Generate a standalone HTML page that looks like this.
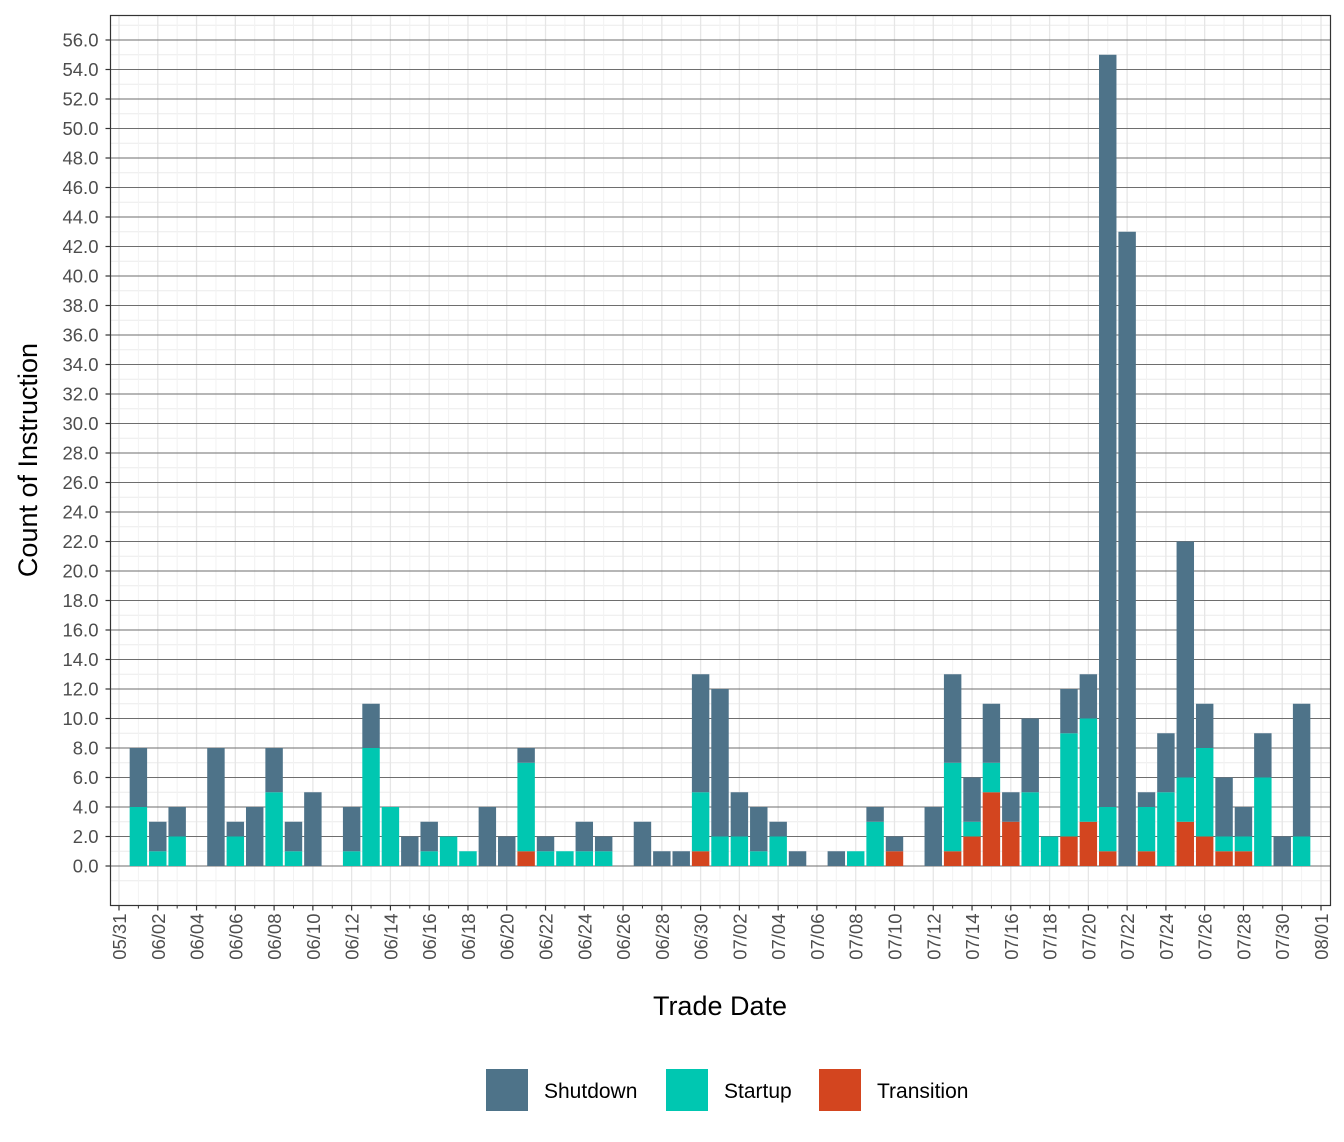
<!DOCTYPE html>
<html><head><meta charset="utf-8"><style>
html,body{margin:0;padding:0;background:#fff;}
svg{display:block;font-family:"Liberation Sans",sans-serif;}
</style></head><body>
<svg id="chart" width="1344" height="1142" xmlns="http://www.w3.org/2000/svg">
<g id="grid"></g>
<g id="bars"></g>
<rect x="110.5" y="15.5" width="1220" height="890" fill="none" stroke="#333" stroke-width="1.2"/>
<g id="yaxis"></g>
<g id="xaxis"></g>
<text x="720" y="1015" font-size="27" text-anchor="middle" fill="#000">Trade Date</text>
<text transform="translate(37,460) rotate(-90)" font-size="27" text-anchor="middle" fill="#000">Count of Instruction</text>
<g>
 <g><rect x="486" y="1069" width="42" height="42" fill="#4e7389"/><text x="544" y="1098" font-size="21">Shutdown</text></g>
 <g><rect x="666" y="1069" width="42" height="42" fill="#00c7b1"/><text x="724" y="1098" font-size="21">Startup</text></g>
 <g><rect x="819" y="1069" width="42" height="42" fill="#d3451f"/><text x="877" y="1098" font-size="21">Transition</text></g>
</g>
</svg>
<script>
// day offsets from 05/31
const days = [1,2,3,5,6,7,8,9,10,12,13,14,15,16,17,18,19,20,21,22,23,24,25,27,28,29,30,31,32,33,34,35,37,38,39,40,42,43,44,45,46,47,48,49,50,51,52,53,54,55,56,57,58,59,60,61];
const transition = [0,0,0,0,0,0,0,0,0,0,0,0,0,0,0,0,0,0,1,0,0,0,0,0,0,0,1,0,0,0,0,0,0,0,0,1,0,1,2,5,3,0,0,2,3,1,0,1,0,3,2,1,1,0,0,0];
const startup    = [4,1,2,0,2,0,5,1,0,1,8,4,0,1,2,1,0,0,6,1,1,1,1,0,0,0,4,2,2,1,2,0,0,1,3,0,0,6,1,2,0,5,2,7,7,3,0,3,5,3,6,1,1,6,0,2];
const shutdown   = [4,2,2,8,1,4,3,2,5,3,3,0,2,2,0,0,4,2,1,1,0,2,1,3,1,1,8,10,3,3,1,1,1,0,1,1,4,6,3,4,2,5,0,3,3,51,43,1,4,16,3,4,2,3,2,9];
const yTicks = [0,2,4,6,8,10,12,14,16,18,20,22,24,26,28,30,32,34,36,38,40,42,44,46,48,50,52,54,56];
const xTickLabels = ["05/31","06/02","06/04","06/06","06/08","06/10","06/12","06/14","06/16","06/18","06/20","06/22","06/24","06/26","06/28","06/30","07/02","07/04","07/06","07/08","07/10","07/12","07/14","07/16","07/18","07/20","07/22","07/24","07/26","07/28","07/30","08/01"];

const NS="http://www.w3.org/2000/svg";
const X0=119, DW=(1321-119)/62, Y0=866, UH=(866-40)/56;
const PL=110.5, PR=1330.5, PT=15.5, PB=905.5;
const x=d=>X0+d*DW, y=v=>Y0-v*UH;
function mk(tag,attrs,parent){const e=document.createElementNS(NS,tag);for(const k in attrs)e.setAttribute(k,attrs[k]);parent.appendChild(e);return e;}
const grid=document.getElementById('grid'),bars=document.getElementById('bars'),ya=document.getElementById('yaxis'),xa=document.getElementById('xaxis');
// minor horizontal
for(let v=-1;v<=57;v+=2){const yy=y(v);if(yy<PT||yy>PB)continue;
 const l=mk('line',{x1:PL,x2:PR,y1:yy,y2:yy,stroke:'#ebebeb','stroke-width':1},grid);
 
 }
// vertical grid
for(let d=-1;d<=63;d++){const xx=x(d);if(xx<PL||xx>PR)continue;
 const l=mk('line',{x1:xx,x2:xx,y1:PT,y2:PB,stroke:d%2===0?'#e6e6e6':'#f2f2f2','stroke-width':d%2===0?1.3:1},grid);
 
 }
// major horizontal
yTicks.forEach(v=>{const yy=y(v);
 const l=mk('line',{x1:PL,x2:PR,y1:yy,y2:yy,stroke:'#6e6e6e','stroke-width':1},grid);
 
 
 const t=mk('line',{x1:PL-5,x2:PL,y1:yy,y2:yy,stroke:'#333','stroke-width':1.2},ya);
 
 
 const tx=mk('text',{x:PL-12,y:yy+6.5,'font-size':18.5,'text-anchor':'end',fill:'#4d4d4d'},ya);
 tx.textContent=v.toFixed(1);
 
 });
// x ticks
xTickLabels.forEach((lab,i)=>{const xx=x(i*2);
 const t=mk('line',{x1:xx,x2:xx,y1:PB,y2:PB+5,stroke:'#333','stroke-width':1.2},xa);
 
 
 const tx=mk('text',{transform:`translate(${xx+7},${PB+8}) rotate(-90)`,'font-size':18.5,'text-anchor':'end',fill:'#4d4d4d'},xa);
 tx.textContent=lab;
 
 });
for(let d=1;d<62;d+=2){const t=mk('line',{x1:x(d),x2:x(d),y1:PB,y2:PB+3,stroke:'#333','stroke-width':1},xa);
 
 }
// bars
const BW=DW*0.9;
days.forEach((d,i)=>{let base=0;
 [[transition[i],'#d3451f','transition'],[startup[i],'#00c7b1','startup'],[shutdown[i],'#4e7389','shutdown']].forEach(([v,c,n])=>{
  if(v>0){const r=mk('rect',{x:x(d)-BW/2,y:y(base+v),width:BW,height:v*UH,fill:c},bars);
   
   }
  base+=v;});});
</script>
</body></html>
